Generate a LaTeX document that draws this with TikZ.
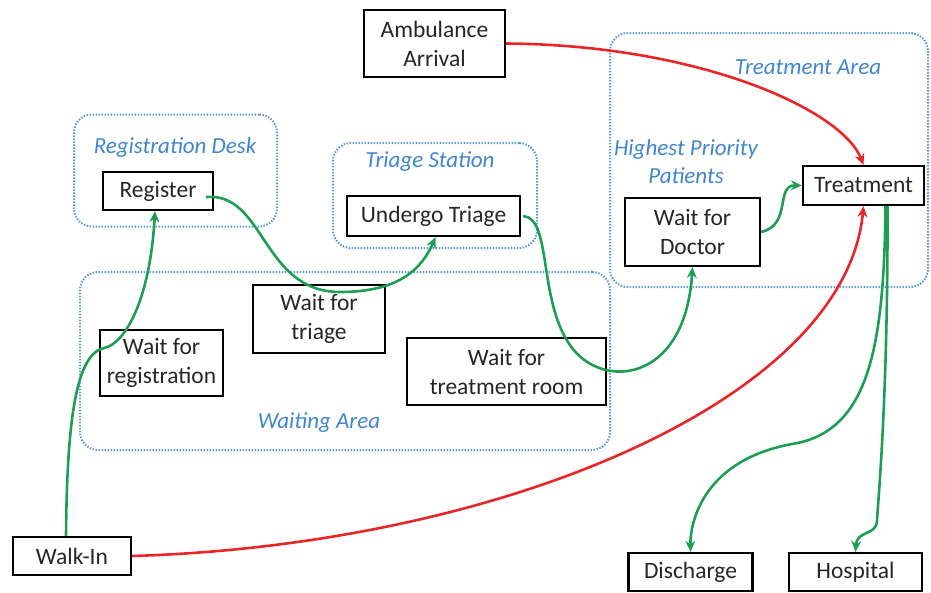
\documentclass[tikz,border=0pt]{standalone}
\usepackage{fontspec}
\setmainfont{Carlito}
\usetikzlibrary{arrows.meta}
\definecolor{areablue}{HTML}{5B9BD5}
\definecolor{labelblue}{HTML}{3F86CC}
\definecolor{flowgreen}{HTML}{1E9E55}
\definecolor{flowred}{HTML}{E8262A}
\tikzset{
  box/.style={draw=black, line width=2.3pt, fill=white, inner sep=0pt,
    align=center, font=\fontsize{23.5}{29}\selectfont, text=black!85},
  area/.style={draw=areablue, line width=2pt, dash pattern=on 1.5pt off 1.5pt,
    rounded corners=18pt, inner sep=0pt},
  arealabel/.style={font=\fontsize{23}{28}\selectfont\itshape, text=labelblue, align=center},
  flow/.style={line width=2.6pt, -{Stealth[length=11pt,width=10pt]}},
  gflow/.style={flow, draw=flowgreen},
  rflow/.style={flow, draw=flowred}
}
\begin{document}
\begin{tikzpicture}[x=1pt, y=-1pt]
\useasboundingbox (0,0) rectangle (931,592);

% dotted areas
\node[area, minimum width=203pt, minimum height=112pt] (deskarea) at (175.5,170.5) {};
\node[area, minimum width=204pt, minimum height=105pt] (triarea) at (435,195.5) {};
\node[area, minimum width=318pt, minimum height=254pt] (treatarea) at (769,160) {};
\node[area, minimum width=530pt, minimum height=178pt] (waitarea) at (345,361) {};

% area labels
\node[arealabel] (desklbl) at (175,147) {Registration Desk};
\node[arealabel] (trilbl) at (430,162) {Triage Station};
\node[arealabel] (treatlbl) at (808,67) {Treatment Area};
\node[arealabel] (prilbl) at (686,162) {Highest Priority\\Patients};
\node[arealabel] (waitlbl) at (319,423) {Waiting Area};

% process steps
\node[box, minimum width=141pt, minimum height=67pt] (amb) at (434.5,43.5) {Ambulance\\Arrival};
\node[box, minimum width=110pt, minimum height=38pt] (reg) at (158,191) {Register};
\node[box, minimum width=173pt, minimum height=40pt] (tri) at (433.5,216) {Undergo Triage};
\node[box, minimum width=135pt, minimum height=68pt] (doc) at (692.5,232) {Wait for\\Doctor};
\node[box, minimum width=121pt, minimum height=39pt] (treat) at (863.5,185.5) {Treatment};
\node[box, minimum width=132pt, minimum height=68pt] (wtri) at (319,319) {Wait for\\triage};
\node[box, minimum width=123pt, minimum height=66pt] (wreg) at (161.5,363) {Wait for\\registration};
\node[box, minimum width=199pt, minimum height=67pt] (wroom) at (506.5,371.5) {Wait for\\treatment room};
\node[box, minimum width=118pt, minimum height=38pt] (walk) at (72,556) {Walk-In};
\node[box, minimum width=124pt, minimum height=38pt] (dis) at (690.5,572) {Discharge};
\node[box, minimum width=133pt, minimum height=38pt] (hosp) at (855.5,572) {Hospital};

% patient flow
\draw[gflow] ([xshift=-6pt]walk.north) .. controls (67,420) and (76,354) .. (104,348)
  .. controls (125,344) and (150,300) .. ([xshift=-3pt]reg.south);
\draw[gflow] ([xshift=-8pt,yshift=-6pt]reg.east) .. controls (265,192) and (262,292) .. (340,292)
  .. controls (400,292) and (422,268) .. ([xshift=2pt]tri.south);
\draw[gflow] ([xshift=2pt]tri.east) .. controls (552,218) and (538,300) .. (570,345)
  .. controls (600,390) and (685,385) .. (doc.south);
\draw[gflow] (doc.east) .. controls (792,225) and (775,185) .. (treat.west);
\draw[rflow] (amb.east) .. controls (700,45) and (842,110) .. (treat.north);
\draw[rflow] (walk.east) .. controls (500,545) and (845,400) .. (treat.south);
\draw[gflow] ([xshift=22pt]treat.south) .. controls (884,350) and (868,432) .. (792,444)
  .. controls (705,460) and (690,520) .. (dis.north);
\draw[gflow] ([xshift=24pt]treat.south) .. controls (888,400) and (878,500) .. (877,521)
  .. controls (876,536) and (857,530) .. (hosp.north);
\end{tikzpicture}
\end{document}
